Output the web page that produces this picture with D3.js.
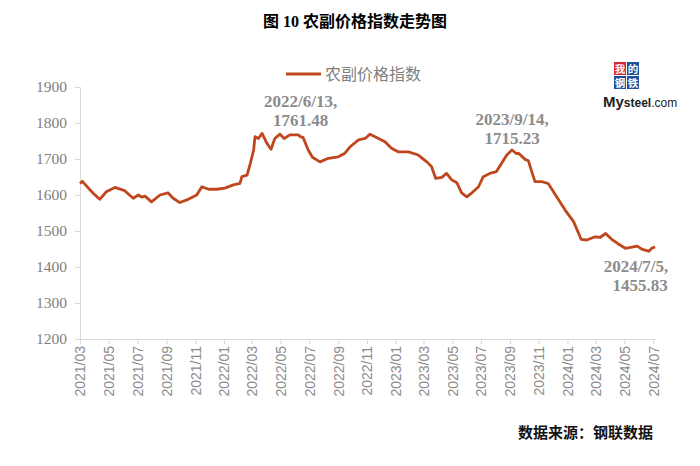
<!DOCTYPE html>
<html><head><meta charset="utf-8">
<script src="https://cdn.jsdelivr.net/npm/d3@7"></script>
<style>
html,body{margin:0;padding:0;background:#fff;}
svg{display:block;}
</style></head>
<body>
<svg id="chart" width="700" height="466"></svg>
<script>
const titleText = "图 10 农副价格指数走势图";
const seriesName = "农副价格指数";
const sourceText = "数据来源：钢联数据";
const yTicks = [1200, 1300, 1400, 1500, 1600, 1700, 1800, 1900];
const xStart = "2021-03-01", xEnd = "2024-07-05";
const dates = [
"2021-03-01","2021-03-06","2021-03-19","2021-03-29","2021-04-12","2021-04-26","2021-05-14","2021-06-04","2021-06-22","2021-07-03",
"2021-07-10","2021-07-17","2021-07-31","2021-08-18","2021-09-04","2021-09-15","2021-09-29","2021-10-17","2021-11-04","2021-11-15",
"2021-11-29","2021-12-17","2022-01-03","2022-01-21","2022-02-04","2022-02-08","2022-02-19","2022-02-26","2022-03-05","2022-03-08",
"2022-03-15","2022-03-23","2022-04-02","2022-04-11","2022-04-19","2022-04-30","2022-05-09","2022-05-21","2022-06-08","2022-06-13",
"2022-06-18","2022-06-29","2022-07-08","2022-07-24","2022-08-11","2022-09-01","2022-09-15","2022-09-26","2022-10-14","2022-10-28",
"2022-11-07","2022-11-18","2022-12-09","2022-12-23","2023-01-06","2023-01-28","2023-02-18","2023-03-08","2023-03-18","2023-03-27",
"2023-04-09","2023-04-19","2023-04-30","2023-05-11","2023-05-21","2023-06-01","2023-06-12","2023-06-26","2023-07-06","2023-07-20",
"2023-08-03","2023-08-14","2023-08-25","2023-09-05","2023-09-14","2023-09-19","2023-10-03","2023-10-10","2023-10-17","2023-10-24",
"2023-11-07","2023-11-21","2023-12-09","2023-12-27","2024-01-14","2024-01-30","2024-02-11","2024-02-29","2024-03-10","2024-03-22",
"2024-04-04","2024-04-18","2024-05-03","2024-05-17","2024-05-28","2024-06-08","2024-06-22","2024-06-28","2024-07-05"];
const values = [
1632,1638,1619,1605,1588,1609,1621,1612,1591,1600,
1594,1597,1581,1600,1606,1591,1579,1588,1600,1623,
1616,1616,1619,1628,1632,1651,1655,1688,1725,1762,
1757,1771,1744,1727,1757,1769,1757,1767,1767,1761.48,
1760,1725,1705,1692,1702,1706,1716,1734,1753,1757,
1769,1762,1748,1730,1720,1720,1711,1692,1679,1646,
1649,1660,1642,1634,1606,1595,1606,1623,1651,1660,
1665,1688,1711,1725,1715.23,1716,1699,1695,1665,1637,
1637,1632,1595,1558,1526,1477,1475,1484,1482,1493,
1477,1464,1452,1455,1458,1449,1444,1452,1455.83];
const annotations = [
  {date:"2022-06-13", lines:["2022/6/13,","1761.48"]},
  {date:"2023-09-14", lines:["2023/9/14,","1715.23"]},
  {date:"2024-07-05", lines:["2024/7/5,","1455.83"]}
];

const parse = d3.utcParse("%Y-%m-%d");
const data = dates.map((d,i)=>({date:parse(d), value:values[i]}));

const svg = d3.select("#chart");
const x = d3.scaleUtc().domain([parse(xStart), parse(xEnd)]).range([80, 655]);
const y = d3.scaleLinear().domain([1200, 1900]).range([339, 87]);
const axisColor = "#d9d9d9";
const labelColor = "#808080";

// title
svg.append("text").attr("x", 355).attr("y", 27).attr("text-anchor","middle")
  .attr("font-family","'Liberation Serif','Noto Sans CJK SC'").attr("font-weight","bold")
  .attr("font-size",16).attr("fill","#000").text(titleText);

// y axis
const yAxis = svg.append("g").attr("transform","translate(80,0)")
  .call(d3.axisLeft(y).tickValues(yTicks).tickSize(5).tickPadding(8).tickFormat(d3.format("d")));
yAxis.selectAll("path,line").attr("stroke", axisColor);
yAxis.selectAll("text").attr("font-family","'Liberation Serif',serif").attr("font-size",15.5).attr("fill",labelColor);

// x axis
const xTickVals = d3.utcMonth.every(2).range(parse("2021-03-01"), parse("2024-07-02"));
const xAxis = svg.append("g").attr("transform","translate(0,339)")
  .call(d3.axisBottom(x).tickValues(xTickVals).tickSize(5).tickSizeOuter(0).tickFormat(d3.utcFormat("%Y/%m")));
xAxis.selectAll("path,line").attr("stroke", axisColor);
xAxis.selectAll("text").attr("font-family","'Liberation Sans',sans-serif").attr("font-size",14).attr("fill","#8c8c8c")
  .attr("transform","rotate(-90)").attr("text-anchor","end").attr("dx","-7").attr("dy","0.35em").attr("x",0).attr("y",0);

// line
const line = d3.line().x(d=>x(d.date)).y(d=>y(d.value)).curve(d3.curveLinear);
svg.append("path").datum(data).attr("d", line).attr("fill","none")
  .attr("stroke","#c0461e").attr("stroke-width",2.8).attr("stroke-linejoin","round");

// legend
svg.append("line").attr("x1",286).attr("x2",321).attr("y1",74).attr("y2",74)
  .attr("stroke","#c0461e").attr("stroke-width",2.8);
svg.append("text").attr("x",325).attr("y",80).attr("font-family","'Noto Sans CJK SC'")
  .attr("font-size",16).attr("fill","#808080").text(seriesName);

// annotations
const annPos = [{dx:0, y:107},{dx:-4, y:125},{dx:-19, y:272}];
annotations.forEach((a,i)=>{
  const cx = x(parse(a.date)) + annPos[i].dx;
  a.lines.forEach((t,j)=>{
    svg.append("text").attr("x", cx + (j===1 && i===2 ? 4 : 0)).attr("y", annPos[i].y + j*18.5)
      .attr("text-anchor","middle").attr("font-family","'Liberation Serif',serif")
      .attr("font-weight","bold").attr("font-size",17).attr("fill","#8c8c8c").text(t);
  });
});

// source
svg.append("text").attr("x",653).attr("y",438).attr("text-anchor","end")
  .attr("font-family","'Noto Sans CJK SC'").attr("font-weight","bold")
  .attr("font-size",15).attr("fill","#111").text(sourceText);

// logo
const logo = svg.append("g");
const boxes = [
  {t:"我", x:614, y:62, c:"#d7262e"},
  {t:"的", x:627, y:62, c:"#1f4e9c"},
  {t:"钢", x:614, y:76, c:"#1f4e9c"},
  {t:"铁", x:627, y:76, c:"#1f4e9c"}
];
boxes.forEach(b=>{
  logo.append("rect").attr("x",b.x).attr("y",b.y).attr("width",12).attr("height",13).attr("fill",b.c);
  logo.append("text").attr("x",b.x+6).attr("y",b.y+10.5).attr("text-anchor","middle")
    .attr("font-family","'Noto Sans CJK SC'").attr("font-weight","bold").attr("font-size",10.5)
    .attr("fill","#fff").text(b.t);
});
const lt = logo.append("text").attr("x",603).attr("y",107).attr("font-family","'Liberation Sans',Arial,sans-serif").attr("fill","#222");
lt.append("tspan").attr("font-size",15).attr("font-weight","bold").text("My");
lt.append("tspan").attr("font-size",12).attr("font-weight","bold").text("steel");
lt.append("tspan").attr("font-size",12).text(".com");
</script>
</body></html>
